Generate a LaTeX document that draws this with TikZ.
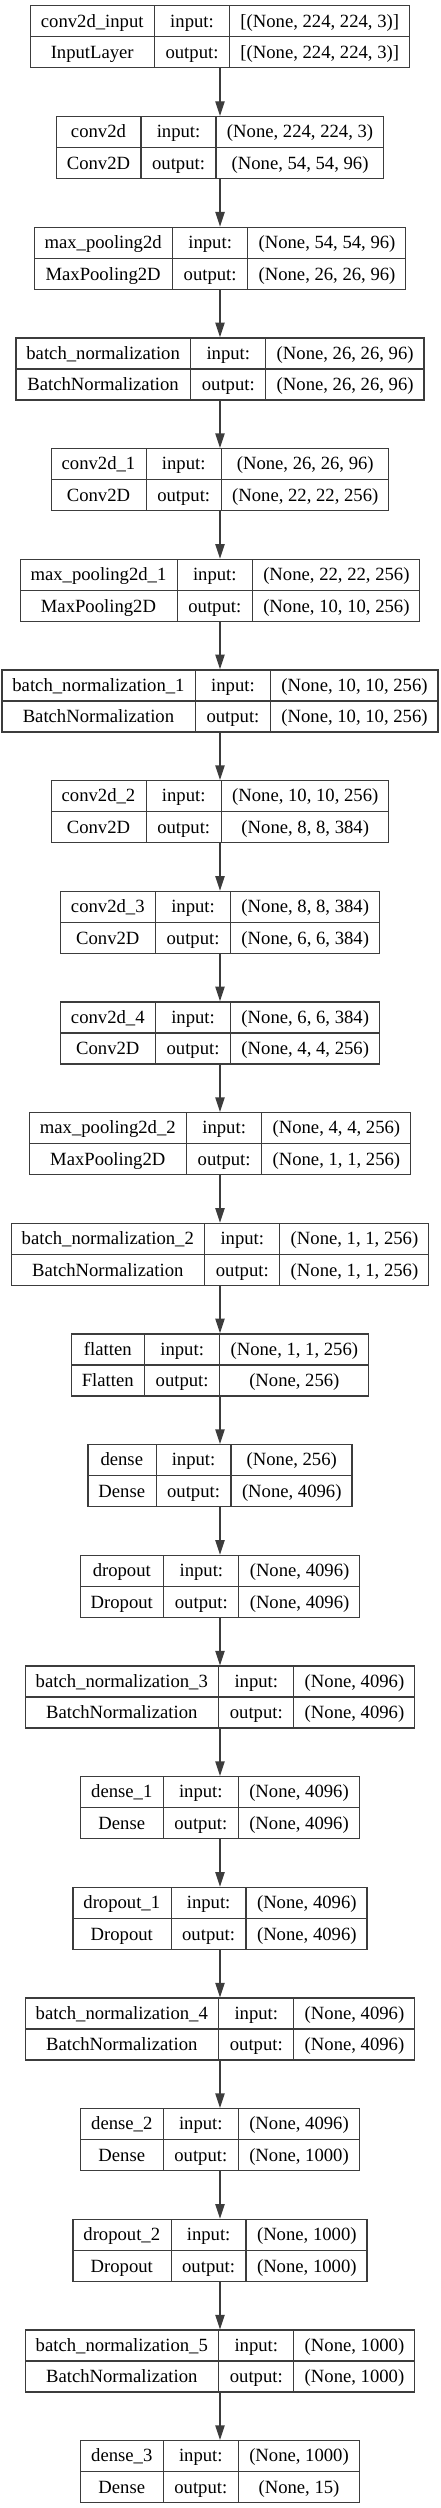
\documentclass[tikz,border=0pt]{standalone}
\usepackage{fontspec}
\setmainfont{Liberation Serif}
\usepackage{colortbl}
\usepackage{tikz}
\usetikzlibrary{arrows.meta}
\definecolor{kerasgray}{RGB}{60,60,60}
\setlength{\tabcolsep}{7.8pt}
\setlength{\arrayrulewidth}{0.9pt}
\arrayrulecolor{kerasgray}
\newcommand{\layertab}[4]{\begin{tabular}{c|c|c}
#1 & input: & #3\\ \hline
#2 & output: & #4
\end{tabular}}

\begin{document}
\begin{tikzpicture}[x=0.75pt,y=-0.75pt,
  layer/.style={draw=kerasgray,line width=0.9pt,inner sep=0pt,anchor=north,font=\fontsize{14pt}{22.8pt}\selectfont},
  flow/.style={kerasgray,line width=1pt,-{Triangle[length=11pt,width=7pt]}}]
\useasboundingbox (0,0) rectangle (440,2508);

% Schichten
\node[layer] (inp) at (220,5.3) {\layertab{conv2d\_input}{InputLayer}{[(None, 224, 224, 3)]}{[(None, 224, 224, 3)]}};
\node[layer] (conv) at (220,116.0) {\layertab{conv2d}{Conv2D}{(None, 224, 224, 3)}{(None, 54, 54, 96)}};
\node[layer] (pool) at (220,226.6) {\layertab{max\_pooling2d}{MaxPooling2D}{(None, 54, 54, 96)}{(None, 26, 26, 96)}};
\node[layer] (bn) at (220,337.3) {\layertab{batch\_normalization}{BatchNormalization}{(None, 26, 26, 96)}{(None, 26, 26, 96)}};
\node[layer] (conva) at (220,448.0) {\layertab{conv2d\_1}{Conv2D}{(None, 26, 26, 96)}{(None, 22, 22, 256)}};
\node[layer] (poola) at (220,558.7) {\layertab{max\_pooling2d\_1}{MaxPooling2D}{(None, 22, 22, 256)}{(None, 10, 10, 256)}};
\node[layer] (bna) at (220,669.3) {\layertab{batch\_normalization\_1}{BatchNormalization}{(None, 10, 10, 256)}{(None, 10, 10, 256)}};
\node[layer] (convb) at (220,780.0) {\layertab{conv2d\_2}{Conv2D}{(None, 10, 10, 256)}{(None, 8, 8, 384)}};
\node[layer] (convc) at (220,890.7) {\layertab{conv2d\_3}{Conv2D}{(None, 8, 8, 384)}{(None, 6, 6, 384)}};
\node[layer] (convd) at (220,1001.3) {\layertab{conv2d\_4}{Conv2D}{(None, 6, 6, 384)}{(None, 4, 4, 256)}};
\node[layer] (poolb) at (220,1112.0) {\layertab{max\_pooling2d\_2}{MaxPooling2D}{(None, 4, 4, 256)}{(None, 1, 1, 256)}};
\node[layer] (bnb) at (220,1222.7) {\layertab{batch\_normalization\_2}{BatchNormalization}{(None, 1, 1, 256)}{(None, 1, 1, 256)}};
\node[layer] (flat) at (220,1333.3) {\layertab{flatten}{Flatten}{(None, 1, 1, 256)}{(None, 256)}};
\node[layer] (fc) at (220,1444.0) {\layertab{dense}{Dense}{(None, 256)}{(None, 4096)}};
\node[layer] (drop) at (220,1554.7) {\layertab{dropout}{Dropout}{(None, 4096)}{(None, 4096)}};
\node[layer] (bnc) at (220,1665.4) {\layertab{batch\_normalization\_3}{BatchNormalization}{(None, 4096)}{(None, 4096)}};
\node[layer] (fca) at (220,1776.0) {\layertab{dense\_1}{Dense}{(None, 4096)}{(None, 4096)}};
\node[layer] (dropa) at (220,1886.7) {\layertab{dropout\_1}{Dropout}{(None, 4096)}{(None, 4096)}};
\node[layer] (bnd) at (220,1997.4) {\layertab{batch\_normalization\_4}{BatchNormalization}{(None, 4096)}{(None, 4096)}};
\node[layer] (fcb) at (220,2108.0) {\layertab{dense\_2}{Dense}{(None, 4096)}{(None, 1000)}};
\node[layer] (dropb) at (220,2218.7) {\layertab{dropout\_2}{Dropout}{(None, 1000)}{(None, 1000)}};
\node[layer] (bne) at (220,2329.4) {\layertab{batch\_normalization\_5}{BatchNormalization}{(None, 1000)}{(None, 1000)}};
\node[layer] (fcc) at (220,2440.0) {\layertab{dense\_3}{Dense}{(None, 1000)}{(None, 15)}};

% Verbindungen
\draw[flow] (inp) -- (conv);
\draw[flow] (conv) -- (pool);
\draw[flow] (pool) -- (bn);
\draw[flow] (bn) -- (conva);
\draw[flow] (conva) -- (poola);
\draw[flow] (poola) -- (bna);
\draw[flow] (bna) -- (convb);
\draw[flow] (convb) -- (convc);
\draw[flow] (convc) -- (convd);
\draw[flow] (convd) -- (poolb);
\draw[flow] (poolb) -- (bnb);
\draw[flow] (bnb) -- (flat);
\draw[flow] (flat) -- (fc);
\draw[flow] (fc) -- (drop);
\draw[flow] (drop) -- (bnc);
\draw[flow] (bnc) -- (fca);
\draw[flow] (fca) -- (dropa);
\draw[flow] (dropa) -- (bnd);
\draw[flow] (bnd) -- (fcb);
\draw[flow] (fcb) -- (dropb);
\draw[flow] (dropb) -- (bne);
\draw[flow] (bne) -- (fcc);
\end{tikzpicture}
\end{document}
